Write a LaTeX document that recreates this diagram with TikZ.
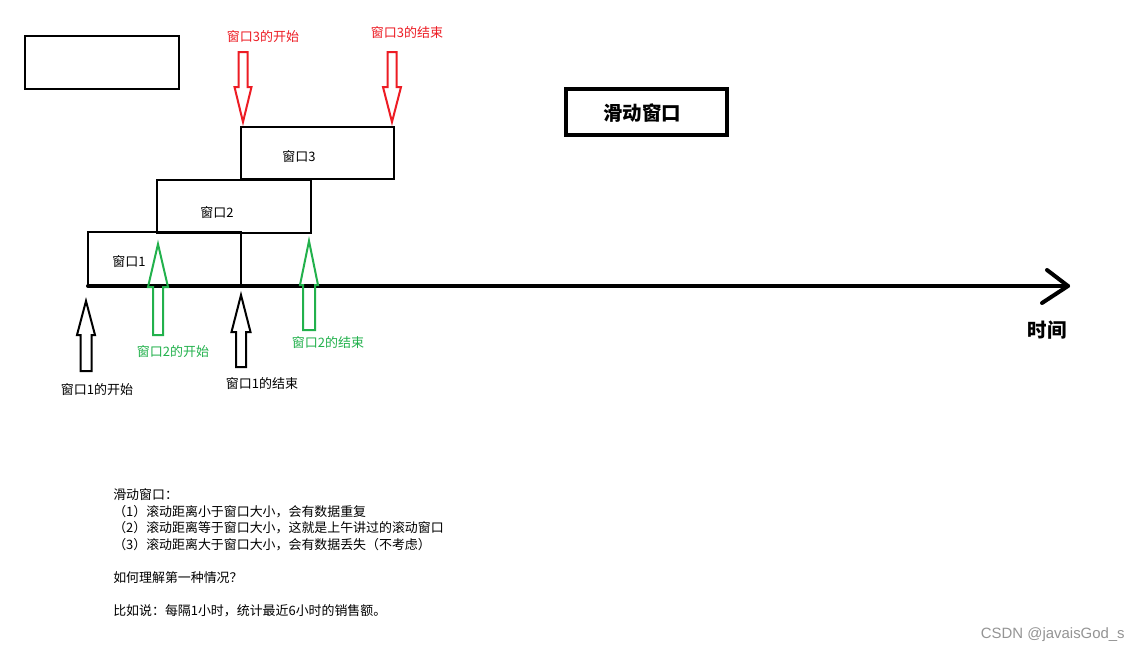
\documentclass[tikz,border=0pt]{standalone}
\usepackage{fontspec}
\setmainfont{Noto Sans CJK SC}
\newfontfamily\wmfont{Liberation Sans}
\definecolor{pred}{RGB}{237,28,36}
\definecolor{pgreen}{RGB}{34,177,76}
\newcommand\blockarr[7]{%
  \draw[#7] (#1,#2) -- (#1+#6,#3) -- (#1+#5,#3) -- (#1+#5,#4) -- (#1-#5,#4) -- (#1-#5,#3) -- (#1-#6,#3) -- cycle;}
\tikzset{
  box/.style={draw=black,line width=1.6pt},
  thickbox/.style={draw=black,line width=3pt},
  axisline/.style={draw=black,line width=3pt,line cap=round,line join=round},
  redarr/.style={draw=pred,line width=1.5pt},
  greenarr/.style={draw=pgreen,line width=1.5pt},
  blackarr/.style={draw=black,line width=1.5pt},
  lab/.style={inner sep=0pt,font=\fontsize{9.75}{11}\selectfont},
  redlab/.style={lab,text=pred},
  greenlab/.style={lab,text=pgreen},
  para/.style={inner sep=0pt,anchor=west,font=\fontsize{9.7}{11}\selectfont},
  title/.style={inner sep=0pt,font=\fontsize{14.6}{16}\selectfont\bfseries},
}
\begin{document}
\begin{tikzpicture}[x=0.75pt,y=-0.75pt]
\useasboundingbox[fill=white] (0,0) rectangle (1142,654);
% top-left empty box
\draw[box] (25,36) rectangle (179,89);
% title box
\draw[thickbox] (566,89) rectangle (727,135);
\node[title] (title) at (642,113) {滑动窗口};
% windows
\draw[box] (241,127) rectangle (394,179);
\node[lab] (w3) at (299,157) {窗口3};
\draw[box] (157,180) rectangle (311,233);
\node[lab] (w2) at (217,213) {窗口2};
\draw[box] (88,286) -- (88,232) -- (241,232) -- (241,286);
\node[lab] (w1) at (129,262) {窗口1};
% axis
\coordinate (o) at (88,286);
\coordinate (e) at (1068,286);
\draw[axisline] (o) -- (e);
\draw[axisline] (1047,270) -- (e) -- (1042,303);
\node[title] (time) at (1047,330) {时间};
% red arrows
\blockarr{243}{122}{87}{52}{4.5}{8.5}{redarr}
\blockarr{392}{122}{87}{52}{4.5}{9}{redarr}
\node[redlab] (r1) at (263,37) {窗口3的开始};
\node[redlab] (r2) at (407,33) {窗口3的结束};
% green arrows
\blockarr{158}{244}{287}{335}{5}{10}{greenarr}
\blockarr{309}{241}{285}{330}{6}{9}{greenarr}
\node[greenlab] (g1) at (173,352) {窗口2的开始};
\node[greenlab] (g2) at (328,343) {窗口2的结束};
% black arrows
\blockarr{86}{301}{335}{371}{5.5}{9}{blackarr}
\blockarr{241}{295}{332}{367}{5}{9.5}{blackarr}
\node[lab] (b1) at (97,390) {窗口1的开始};
\node[lab] (b2) at (262,384) {窗口1的结束};
% bottom text
\node[para] (t1) at (113,495) {滑动窗口：};
\node[para] (t2) at (113,512) {（1）滚动距离小于窗口大小，会有数据重复};
\node[para] (t3) at (113,528) {（2）滚动距离等于窗口大小，这就是上午讲过的滚动窗口};
\node[para] (t4) at (113,545) {（3）滚动距离大于窗口大小，会有数据丢失（不考虑）};
\node[para] (t5) at (113,578) {如何理解第一种情况？};
\node[para] (t6) at (113,611) {比如说：每隔1小时，统计最近6小时的销售额。};
% watermark
\node[inner sep=0pt,anchor=east,text=black!42,font=\wmfont\fontsize{11.2}{13}\selectfont] (wm) at (1125,635) {CSDN @javaisGod\_s};
\end{tikzpicture}
\end{document}
